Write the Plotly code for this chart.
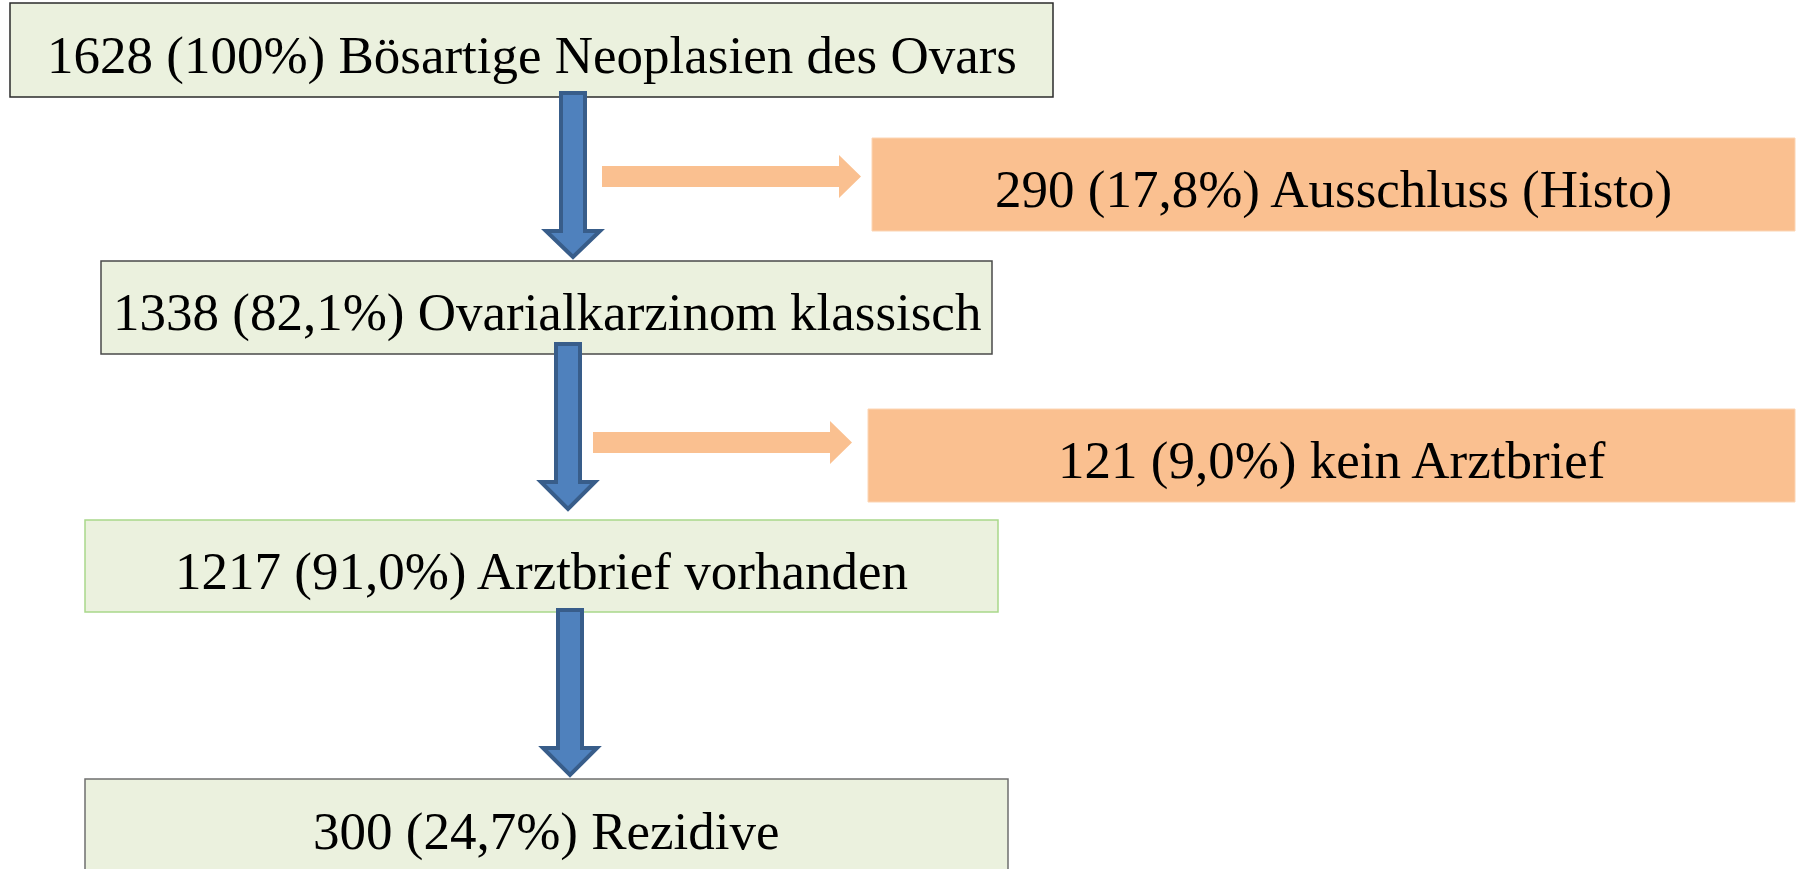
import plotly.graph_objects as go

# ---- data ----
counts = [1628, 1338, 1217, 300]
percents = ["100%", "82,1%", "91,0%", "24,7%"]
labels = ["Bösartige Neoplasien des Ovars", "Ovarialkarzinom klassisch",
          "Arztbrief vorhanden", "Rezidive"]
excl_counts = [290, 121]
excl_percents = ["17,8%", "9,0%"]
excl_labels = ["Ausschluss (Histo)", "kein Arztbrief"]

# ---- layout geometry (pixels in a 1803x869 canvas) ----
W, H = 1803, 869
main_boxes = [  # x0, x1, y0, y1, border colour
    (10, 1053, 3, 97, "#2b2b2b"),
    (101, 992, 261, 354, "#4a4a4a"),
    (85, 998, 520, 612, "#a9d88a"),
    (85, 1008, 779, 905, "#6f6f6f"),
]
excl_boxes = [(872, 1795, 138, 231), (868, 1795, 409, 502)]
down_arrows = [  # cx, top, head base, tip
    (573, 93, 231, 257),
    (568, 344, 482, 509),
    (570, 610, 748, 775),
]
side_arrows = [  # x0, head start, tip, cy
    (602, 839, 861, 176.5),
    (593, 830, 852, 442.5),
]

GREEN_FILL = "#ebf1de"
ORANGE = "#fac090"
BLUE = "#4f81bd"
BLUE_LINE = "#385d8a"
FONT = dict(family="Liberation Serif, Times New Roman, serif", size=53, color="black")

fig = go.Figure()
shapes = []
annotations = []

for (x0, x1, y0, y1, col), n, p, lab in zip(main_boxes, counts, percents, labels):
    shapes.append(dict(type="rect", xref="x", yref="y", x0=x0, x1=x1, y0=y0, y1=y1,
                       fillcolor=GREEN_FILL, line=dict(color=col, width=1.5), layer="above"))
    yc = (y0 + min(y1, 869 + 0)) / 2 if y1 < H else y0 + 47
    annotations.append(dict(x=(x0 + x1) / 2, y=yc + 5, xref="x", yref="y",
                            text=f"{n} ({p}) {lab}", showarrow=False, font=FONT,
                            xanchor="center", yanchor="middle"))

for (x0, x1, y0, y1), n, p, lab in zip(excl_boxes, excl_counts, excl_percents, excl_labels):
    shapes.append(dict(type="rect", xref="x", yref="y", x0=x0, x1=x1, y0=y0, y1=y1,
                       fillcolor=ORANGE, line=dict(color="#fcd5b4", width=1), layer="above"))
    annotations.append(dict(x=(x0 + x1) / 2, y=(y0 + y1) / 2 + 5, xref="x", yref="y",
                            text=f"{n} ({p}) {lab}", showarrow=False, font=FONT,
                            xanchor="center", yanchor="middle"))

sh, hh = 12, 27
for cx, top, base, tip in down_arrows:
    path = (f"M {cx-sh},{top} L {cx+sh},{top} L {cx+sh},{base} L {cx+hh},{base} "
            f"L {cx},{tip} L {cx-hh},{base} L {cx-sh},{base} Z")
    shapes.append(dict(type="path", xref="x", yref="y", path=path, fillcolor=BLUE,
                       line=dict(color=BLUE_LINE, width=4), layer="above"))

for x0, xh, tip, cy in side_arrows:
    path = (f"M {x0},{cy-10.5} L {xh},{cy-10.5} L {xh},{cy-21.5} L {tip},{cy} "
            f"L {xh},{cy+21.5} L {xh},{cy+10.5} L {x0},{cy+10.5} Z")
    shapes.append(dict(type="path", xref="x", yref="y", path=path, fillcolor=ORANGE,
                       line=dict(width=0), layer="above"))

fig.update_layout(
    width=W, height=H, autosize=False,
    margin=dict(l=0, r=0, t=0, b=0, pad=0),
    paper_bgcolor="white", plot_bgcolor="white",
    xaxis=dict(range=[0, W], visible=False, fixedrange=True),
    yaxis=dict(range=[H, 0], visible=False, fixedrange=True),
    shapes=shapes, annotations=annotations, showlegend=False,
)

fig.write_html("out.html", config={"displayModeBar": False},
               post_script="document.body.style.margin='0';document.body.style.overflow='hidden';")
